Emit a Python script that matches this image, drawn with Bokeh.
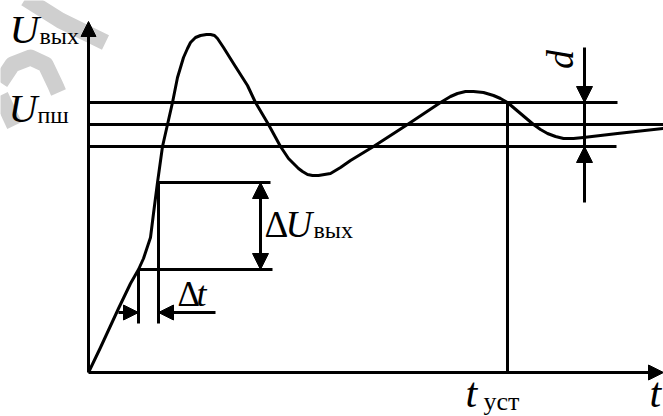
from bokeh.plotting import figure
from bokeh.models import Range1d, Arrow, NormalHead, Label
from bokeh.core.properties import value
from bokeh.embed import file_html
from bokeh.resources import INLINE

# ---- data (time t, output voltage U) ----
curve_t = [0, 12, 30, 42, 50, 55, 62, 65, 69, 74, 79, 84, 89, 95, 99, 102, 107, 112,
           118, 122, 126, 129, 135, 145, 159, 167, 180, 192, 200, 205, 210, 214, 219,
           224, 230, 236, 242, 252, 262, 285, 319, 352, 362, 369, 377, 385, 395, 405,
           412, 419, 432, 445, 452, 459, 467, 475, 485, 495, 529, 575]
curve_u = [0, 25, 64, 89, 103, 114, 135, 159, 190, 226, 248, 270, 295, 315, 324, 330,
           335, 337, 338, 338, 337, 334, 325, 309, 287, 270, 248, 226, 214, 209, 204,
           201, 198, 197, 197, 198, 199, 205, 212, 226, 248, 270, 276, 279, 281, 281,
           280, 277, 274, 270, 259, 248, 243, 239, 236, 234, 234, 235, 239, 244]

band_levels = [270, 248, 226]          # U_pш + d/2, U_pш, U_pш - d/2
band_ends = [529, 575, 528]
t_ust = 419                            # settling time
d_t = 496                              # where the band width d is marked
d_extent = [170, 325]

# increment construction
dt_lo, dt_hi = 50, 70                  # t values bounding delta t
du_lo, du_hi = 103, 190                # U values bounding delta U
du_arrow_t = 172
du_line_ends = [184, 182]
dt_level = 60
dt_arrow_from = [30, 127]
dt_line_bottom = 49

axis_t_max = 575
axis_u_max = 351

# faint background watermark strokes
wm_t = [[-63, -28, 17], [-88, -76, -58, -43, -33, -30], [-88, -74]]
wm_u = [[374, 352, 330], [290, 308, 315, 308, 287, 280], [277, 247]]

FONT = "Liberation Serif"
BLACK = "black"
LW = 3
BASELINE_FIX = 0.34   # Bokeh's text box puts the alphabetic baseline lower by ~0.34 em

p = figure(width=663, height=416, x_range=Range1d(-88, 575), y_range=Range1d(-44, 372),
           output_backend="svg", toolbar_location=None, min_border=0,
           x_axis_type=None, y_axis_type=None)
p.grid.visible = False
p.outline_line_color = None
p.background_fill_color = "white"
p.border_fill_color = "white"

# watermark
p.multi_line(wm_t, wm_u, line_color="#cfcfcf", line_width=16, line_cap="butt", line_join="round")

def head(size=15):
    return NormalHead(size=size, fill_color=BLACK, line_color=BLACK, line_width=1)

# axes with arrows
p.add_layout(Arrow(end=head(15), x_start=0, y_start=0, x_end=0, y_end=axis_u_max,
                   line_width=LW, line_color=BLACK))
p.add_layout(Arrow(end=head(15), x_start=0, y_start=0, x_end=axis_t_max, y_end=0,
                   line_width=LW, line_color=BLACK))

# tolerance band lines
for lvl, end in zip(band_levels, band_ends):
    p.line([0, end], [lvl, lvl], line_color=BLACK, line_width=LW)

# settling time marker
p.line([t_ust, t_ust], [0, band_levels[0]], line_color=BLACK, line_width=LW)

# d marker
p.line([d_t, d_t], d_extent, line_color=BLACK, line_width=LW)
p.add_layout(Arrow(end=head(16), x_start=d_t, y_start=d_extent[1], x_end=d_t, y_end=band_levels[0],
                   line_width=0, line_alpha=0))
p.add_layout(Arrow(end=head(16), x_start=d_t, y_start=d_extent[0], x_end=d_t, y_end=band_levels[2],
                   line_width=0, line_alpha=0))

# delta U construction
p.line([dt_hi, du_line_ends[1]], [du_hi, du_hi], line_color=BLACK, line_width=LW)
p.line([dt_lo, du_line_ends[0]], [du_lo, du_lo], line_color=BLACK, line_width=LW)
p.line([dt_lo, dt_lo], [dt_line_bottom, du_lo], line_color=BLACK, line_width=LW)
p.line([dt_hi, dt_hi], [dt_line_bottom, du_hi], line_color=BLACK, line_width=LW)
p.add_layout(Arrow(start=head(16), end=head(16), x_start=du_arrow_t, y_start=du_lo,
                   x_end=du_arrow_t, y_end=du_hi, line_width=LW, line_color=BLACK))

# delta t arrows
p.add_layout(Arrow(end=head(15), x_start=dt_arrow_from[0], y_start=dt_level, x_end=dt_lo, y_end=dt_level,
                   line_width=LW, line_color=BLACK))
p.add_layout(Arrow(end=head(15), x_start=dt_arrow_from[1], y_start=dt_level, x_end=dt_hi, y_end=dt_level,
                   line_width=LW, line_color=BLACK))

# transient response curve
p.line(curve_t, curve_u, line_color=BLACK, line_width=LW, line_join="round")

def lab(x, y, text, size, italic=False):
    p.add_layout(Label(x=x, y=y + BASELINE_FIX * size, text=text, text_font=FONT,
                       text_font_size=f"{size}px",
                       text_font_style="italic" if italic else "normal",
                       text_baseline="alphabetic", text_align="left", text_color=BLACK))

lab(-79, 330, "U", 41, italic=True)
lab(-49, 328, "вых", 24)
lab(-80, 250, "U", 40, italic=True)
lab(-51, 249, "пш", 24)
lab(176, 135, "Δ", 37)
lab(197, 135, "U", 37, italic=True)
lab(225, 134, "вых", 24)
lab(89, 66, "Δ", 35)
lab(108, 66, "t", 36, italic=True)
lab(377, -35, "t", 42, italic=True)
lab(395, -38, "уст", 26)
lab(561, -35, "t", 42, italic=True)

# rotated "d" label (text glyph with angle)
p.text(x=[471], y=[313], text=["d"], angle=1.5708, text_font=value(FONT),
       text_font_style="italic", text_font_size="38px", text_align="center",
       text_baseline="middle", text_color=BLACK)

open("out.html", "w").write(file_html(p, INLINE))
